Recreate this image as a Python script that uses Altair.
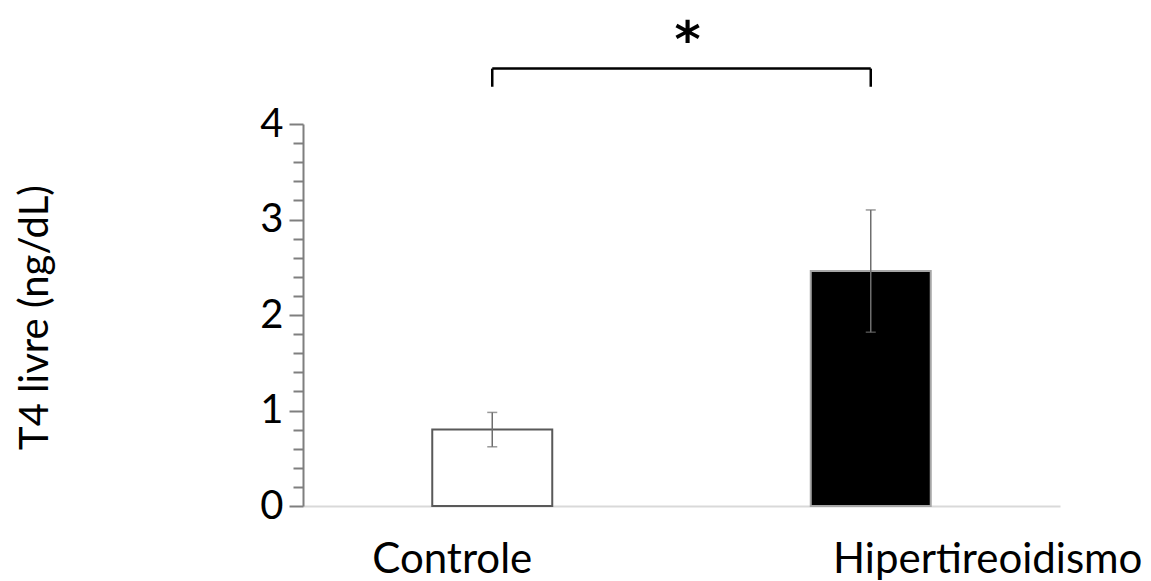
import altair as alt
import pandas as pd

categories = ["Controle", "Hipertireoidismo"]
means = [0.80, 2.46]
errors = [0.18, 0.64]
fills = ["white", "black"]
strokes = ["#595959", "#a6a6a6"]
y_ticks = [0, 0.2, 0.4, 0.6, 0.8, 1, 1.2, 1.4, 1.6, 1.8, 2, 2.2, 2.4, 2.6, 2.8,
           3, 3.2, 3.4, 3.6, 3.8, 4]
bracket_top = 4.58
bracket_leg_end = 4.39
star_y = 4.70
star_text = "*"
y_title = "T4 livre (ng/dL)"

FONT = "Lato"

df = pd.DataFrame({
    "cat": categories,
    "mean": means,
    "lo": [m - e for m, e in zip(means, errors)],
    "hi": [m + e for m, e in zip(means, errors)],
})
bracket_df = pd.DataFrame({"a": [categories[0]], "b": [categories[1]], "y": [bracket_top]})
legs_df = pd.DataFrame({"cat": categories, "y": [bracket_top] * 2, "y2": [bracket_leg_end] * 2})
star_df = pd.DataFrame({"cat": [categories[1]], "y": [star_y], "t": [star_text]})

xscale = alt.Scale(domain=categories, paddingInner=0, paddingOuter=0)
yscale = alt.Scale(domain=[0, 4], nice=False, zero=True)

is_major = "abs(datum.value - round(datum.value)) < 0.001"

x_enc = alt.X("cat:N", scale=xscale, sort=categories, title=None,
              axis=alt.Axis(labelAngle=0, labelFont=FONT, labelFontSize=42,
                            labelColor="black", labelPadding=33, labelLimit=0,
                            labelOffset={"condition": {"test": f"datum.value === '{categories[0]}'",
                                                       "value": -40}, "value": 117},
                            ticks=False, domainColor="#d9d9d9", domainWidth=2))
y_enc = alt.Y("mean:Q", scale=yscale, title=y_title,
              axis=alt.Axis(values=y_ticks, tickCount=len(y_ticks), grid=False,
                            labelOverlap=False,
                            labelExpr=f"{is_major} ? format(datum.value, 'd') : ''",
                            labelFont=FONT, labelFontSize=40, labelColor="black",
                            labelPadding=6,
                            tickSize={"condition": {"test": is_major, "value": 14}, "value": 10},
                            tickColor="#7f7f7f", tickWidth=2,
                            domainColor="#7f7f7f", domainWidth=2,
                            titleFont=FONT, titleFontSize=40, titleFontWeight="normal",
                            titleColor="black", titleX=-268, titleY=193,
                            titleBaseline="middle", titleAngle=270))

bars = alt.Chart(df).mark_bar(size=120, strokeWidth=2).encode(
    x=x_enc,
    y=y_enc,
    fill=alt.Fill("cat:N", scale=alt.Scale(domain=categories, range=fills), legend=None),
    stroke=alt.Stroke("cat:N", scale=alt.Scale(domain=categories, range=strokes), legend=None),
)

err = alt.Chart(df).mark_rule(color="#6e6e6e", strokeWidth=1.5).encode(
    x=alt.X("cat:N", scale=xscale, sort=categories),
    y=alt.Y("lo:Q", scale=yscale),
    y2="hi:Q",
)
cap_lo = alt.Chart(df).mark_tick(color="#6e6e6e", size=10, thickness=1.5).encode(
    x=alt.X("cat:N", scale=xscale, sort=categories),
    y=alt.Y("lo:Q", scale=yscale),
)
cap_hi = alt.Chart(df).mark_tick(color="#6e6e6e", size=10, thickness=1.5).encode(
    x=alt.X("cat:N", scale=xscale, sort=categories),
    y=alt.Y("hi:Q", scale=yscale),
)

bracket = alt.Chart(bracket_df).mark_rule(color="black", strokeWidth=2.5).encode(
    x=alt.X("a:N", scale=xscale),
    x2="b:N",
    y=alt.Y("y:Q", scale=yscale),
)
legs = alt.Chart(legs_df).mark_rule(color="black", strokeWidth=2.5).encode(
    x=alt.X("cat:N", scale=xscale, sort=categories),
    y=alt.Y("y:Q", scale=yscale),
    y2="y2:Q",
)
star = alt.Chart(star_df).mark_text(font="DejaVu Sans", fontSize=50, fontWeight="bold",
                                    baseline="alphabetic", color="black", dx=6).encode(
    x=alt.X("cat:N", scale=xscale, bandPosition=0),
    y=alt.Y("y:Q", scale=yscale),
    text="t:N",
)

chart = alt.layer(bars, err, cap_lo, cap_hi, bracket, legs, star).properties(
    width=757, height=382,
    background="white",
    autosize=alt.AutoSizeParams(type="none"),
    padding={"left": 295, "top": 116, "right": 83, "bottom": 75},
).configure_view(strokeWidth=0, stroke=None)

chart.save("out.html", embed_options={"renderer": "svg", "actions": False})
